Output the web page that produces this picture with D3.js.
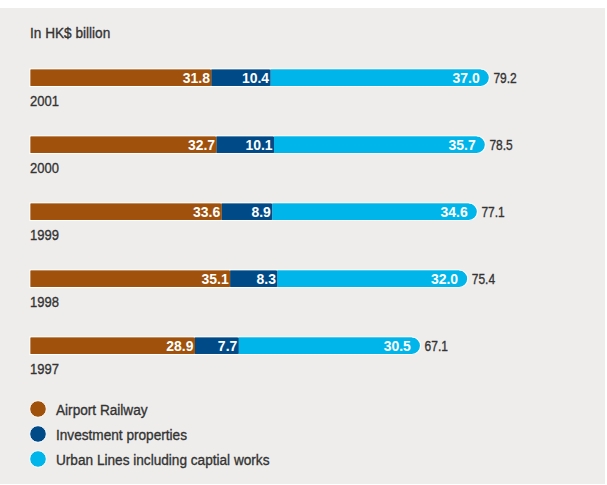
<!DOCTYPE html>
<html>
<head>
<meta charset="utf-8">
<script src="https://cdn.jsdelivr.net/npm/d3@7"></script>
<style>
  html, body { margin: 0; padding: 0; background: #ffffff; }
  svg { display: block; }
  text { font-family: "Liberation Sans", Arial, sans-serif; }
</style>
</head>
<body>
<svg id="chart" width="607" height="485"></svg>
<script>
// Capital expenditure by business line, HK$ billion
const years = ["2001", "2000", "1999", "1998", "1997"];
const airportRailway = [31.8, 32.7, 33.6, 35.1, 28.9];
const investmentProperties = [10.4, 10.1, 8.9, 8.3, 7.7];
const urbanLines = [37.0, 35.7, 34.6, 32.0, 30.5];
const totals = [79.2, 78.5, 77.1, 75.4, 67.1];
const seriesNames = ["Airport Railway", "Investment properties", "Urban Lines including captial works"];
const seriesColors = ["#a0520c", "#004b87", "#00b5e9"];

const svg = d3.select("#chart");

// condensed-looking text: a horizontally squeezed group around a real text node
function label(parent, x, y, str, o) {
  const g = parent.append("g")
    .attr("transform", `translate(${x},${y}) scale(${o.sx || 0.88},1)`);
  const fill = o.fill || "#333";
  const t = g.append("text").attr("x", 0).attr("y", 0)
    .attr("text-anchor", o.anchor || "start")
    .attr("font-size", o.size || 15.5)
    .attr("font-weight", o.weight || "normal")
    .attr("fill", fill)
    .text(str);
  if (!o.weight) t.attr("stroke", fill).attr("stroke-width", 0.35);
  return t;
}

// panel background
svg.append("rect").attr("x", 0).attr("y", 8).attr("width", 605).attr("height", 476)
  .attr("fill", "#eeedeb");

label(svg, 30, 38, "In HK$ billion", { size: 15.5, sx: 0.88 });

const rows = years.map((y, i) => ({
  year: y,
  values: [airportRailway[i], investmentProperties[i], urbanLines[i]],
  total: totals[i]
}));

const x = d3.scaleLinear().domain([0, 80]).range([30, 30 + 80 * 5.69]);
const y = d3.scaleBand().domain(years).range([69, 69 + 67 * years.length]).paddingInner(0).paddingOuter(0);
const barH = 17.5;
const r = barH / 2;

rows.forEach(row => {
  const g = svg.append("g");
  const top = y(row.year);
  let acc = 0;
  const segs = row.values.map((v, k) => {
    const s = { k, v, x0: acc, x1: acc + v };
    acc += v;
    return s;
  });
  const end = x(acc);
  // last segment with rounded right cap
  const last = segs[segs.length - 1];
  const x0 = x(last.x0);
  const path = d3.path();
  path.moveTo(x0, top);
  path.lineTo(end, top);
  path.arc(end, top + r, r, -Math.PI / 2, Math.PI / 2, false);
  path.lineTo(x0, top + barH);
  path.closePath();
  g.append("path").attr("d", path.toString())
    .attr("fill", seriesColors[last.k]).attr("stroke", "#fff").attr("stroke-width", 1.2);

  segs.slice(0, -1).forEach(s => {
    g.append("rect").attr("x", x(s.x0)).attr("y", top)
      .attr("width", x(s.x1) - x(s.x0)).attr("height", barH)
      .attr("fill", seriesColors[s.k]).attr("stroke", "#fff").attr("stroke-width", 1.2);
  });
  // cover the white edges between adjoining segments
  segs.forEach(s => {
    const w = x(s.x1) - x(s.x0);
    g.append("rect").attr("x", x(s.x0) + 0.6).attr("y", top + 0.6)
      .attr("width", w - 0.6 + (s.k < segs.length - 1 ? 0.6 : 0)).attr("height", barH - 1.2)
      .attr("fill", seriesColors[s.k]);
  });

  segs.forEach(s => {
    label(g, x(s.x1) - 1, top + barH / 2 + 5.5, s.v.toFixed(1),
      { anchor: "end", size: 15.5, weight: "bold", fill: "#fff", sx: 0.9 });
  });

  label(g, end + r + 4, top + barH / 2 + 5.3, row.total.toFixed(1), { size: 15, sx: 0.8 });

  label(g, 30, top + 37, row.year, { size: 15.5, sx: 0.84 });
});

// legend
const legend = svg.append("g");
seriesNames.forEach((name, i) => {
  const cy = 409 + i * 25;
  legend.append("circle").attr("cx", 38).attr("cy", cy).attr("r", 8.3)
    .attr("fill", seriesColors[i]).attr("stroke", "#fff").attr("stroke-width", 1);
  label(legend, 56, cy + 5.5, name, { size: 15.5, sx: 0.88 });
});
</script>
</body>
</html>
